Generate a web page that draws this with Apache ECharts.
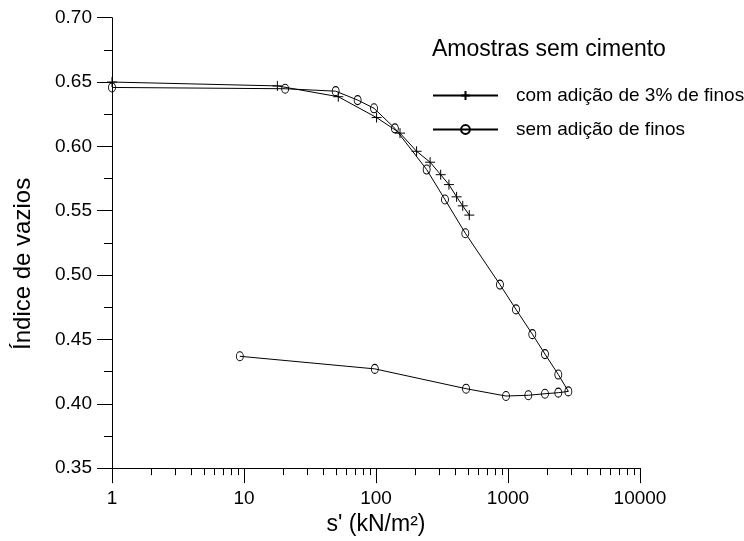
<!DOCTYPE html>
<html>
<head>
<meta charset="utf-8">
<script src="https://cdn.jsdelivr.net/npm/echarts@6/dist/echarts.min.js"></script>
<style>
  html, body { margin: 0; padding: 0; background: #fff; }
  #chart { width: 744px; height: 541px; }
</style>
</head>
<body>
<div id="chart"></div>
<script>
const FONT = '"Liberation Sans", Arial, Helvetica, sans-serif';

// Effective stress s' (kN/m²) and void ratio, samples with 3% fines added
const withFinesStress = [1, 17.9, 51.8, 101, 152, 203, 257, 309, 357, 408, 454, 509];
const withFinesVoid   = [0.650, 0.647, 0.6386, 0.6224, 0.6103, 0.5962, 0.5877, 0.578, 0.5703, 0.5608, 0.5538, 0.5466];

// Samples without added fines: loading up to ~2870 kN/m², then unloading
const noFinesStress = [1, 20.5, 49.5, 72.6, 96.6, 139, 242, 333, 475, 869, 1150, 1528, 1906, 2405, 2866,
                       2405, 1906, 1426, 966, 481, 98, 9.3];
const noFinesVoid   = [0.6458, 0.6448, 0.6429, 0.636, 0.6296, 0.614, 0.582, 0.5587, 0.5325, 0.4926, 0.4733, 0.4541, 0.4386, 0.4227, 0.4096,
                       0.4086, 0.4078, 0.4066, 0.406, 0.4117, 0.4271, 0.4369];

// Minor tick positions of the logarithmic stress axis
const xMinorTicks = [2, 3, 4, 5, 6, 7, 8, 9,
                     20, 30, 40, 50, 60, 70, 80, 90,
                     200, 300, 400, 500, 600, 700, 800, 900,
                     2000, 3000, 4000, 5000, 6000, 7000, 8000, 9000];

const seriesNames = ['com adição de 3% de finos', 'sem adição de finos'];
const legendTitle = 'Amostras sem cimento';
const xName = "s' (kN/m²)";
const yName = 'Índice de vazios';

const pairs = (xs, ys) => xs.map((x, i) => [x, ys[i]]);

const CROSS = 'path://M5,0L5,10M0,5L10,5';

const chart = echarts.init(document.getElementById('chart'), null, { renderer: 'canvas' });

chart.setOption({
  animation: false,
  backgroundColor: '#fff',
  textStyle: { fontFamily: FONT, color: '#000' },
  title: {
    text: legendTitle,
    left: 432,
    top: 38,
    padding: 0,
    textStyle: { fontFamily: FONT, fontSize: 23, fontWeight: 'normal', color: '#000' }
  },
  legend: {
    orient: 'vertical',
    left: 432,
    top: 86,
    padding: 0,
    itemWidth: 65,
    itemHeight: 11,
    itemGap: 15,
    data: seriesNames,
    textStyle: { fontFamily: FONT, fontSize: 19, color: '#000', padding: [0, 0, 0, 13] }
  },
  grid: { left: 112, top: 17.7, right: 104, bottom: 69.3, containLabel: false },
  xAxis: [
    {
      type: 'log',
      logBase: 10,
      min: 1,
      max: 10000,
      position: 'bottom',
      name: xName,
      nameLocation: 'middle',
      nameGap: 43,
      nameTextStyle: { fontFamily: FONT, fontSize: 23, color: '#000' },
      axisLine: { show: true, lineStyle: { color: '#000', width: 1 } },
      axisTick: { show: true, length: 15, lineStyle: { color: '#000', width: 1 } },
      axisLabel: { fontFamily: FONT, fontSize: 19, color: '#000', margin: 21, formatter: v => String(Math.round(v)) },
      splitLine: { show: false },
      minorTick: { show: false }
    },
    {
      type: 'log',
      logBase: 10,
      min: 1,
      max: 10000,
      position: 'bottom',
      axisLine: { show: false },
      axisLabel: { show: false },
      axisTick: { show: true, length: 7, customValues: xMinorTicks, lineStyle: { color: '#000', width: 1 } },
      splitLine: { show: false }
    }
  ],
  yAxis: {
    type: 'value',
    min: 0.35,
    max: 0.70,
    interval: 0.05,
    name: yName,
    nameLocation: 'middle',
    nameRotate: 90,
    nameGap: 77,
    nameTextStyle: { fontFamily: FONT, fontSize: 24, color: '#000', padding: [0, 42, 0, 0] },
    axisLine: { show: true, lineStyle: { color: '#000', width: 1 } },
    axisTick: { show: true, length: 15, lineStyle: { color: '#000', width: 1 } },
    minorTick: { show: true, splitNumber: 2, length: 8, lineStyle: { color: '#000', width: 1 } },
    axisLabel: { fontFamily: FONT, fontSize: 19, color: '#000', margin: 20, formatter: v => v.toFixed(2) },
    splitLine: { show: false }
  },
  series: [
    {
      name: seriesNames[0],
      type: 'line',
      xAxisIndex: 0,
      data: pairs(withFinesStress, withFinesVoid),
      symbol: CROSS,
      symbolSize: 10,
      showAllSymbol: true,
      clip: false,
      lineStyle: { color: '#000', width: 1 },
      itemStyle: { color: 'rgba(255,255,255,0)', borderColor: '#000', borderWidth: 1 },
      emphasis: { disabled: true }
    },
    {
      name: seriesNames[1],
      type: 'line',
      xAxisIndex: 0,
      data: pairs(noFinesStress, noFinesVoid),
      symbol: 'circle',
      symbolSize: [7, 9],
      showAllSymbol: true,
      clip: false,
      lineStyle: { color: '#000', width: 1 },
      itemStyle: { color: 'rgba(255,255,255,0)', borderColor: '#000', borderWidth: 1 },
      emphasis: { disabled: true }
    }
  ]
});
</script>
</body>
</html>
